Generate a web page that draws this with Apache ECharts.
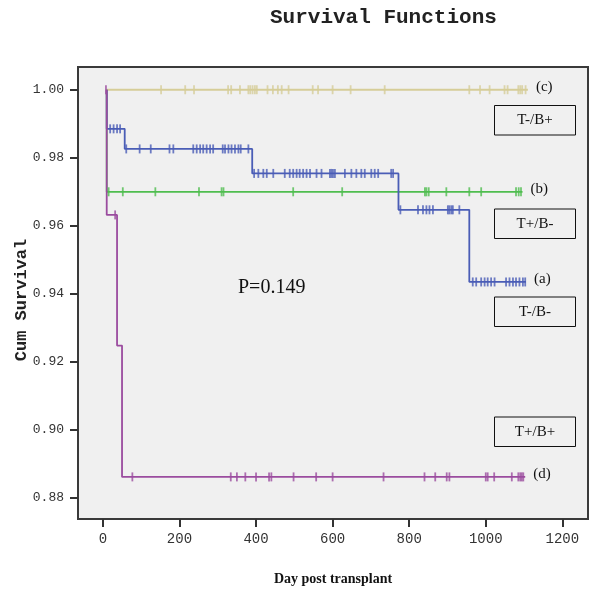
<!DOCTYPE html>
<html>
<head>
<meta charset="utf-8">
<script src="https://cdn.jsdelivr.net/npm/echarts@6/dist/echarts.min.js"></script>
<style>
  html, body { margin: 0; padding: 0; background: #fff; }
  #chart { width: 592px; height: 589px; }
</style>
</head>
<body>
<div id="chart"></div>
<script>
// x / y tick labels
const xTicks = [0, 200, 400, 600, 800, 1000, 1200];
const yTicks = [0.88, 0.90, 0.92, 0.94, 0.96, 0.98, 1.00];

// (a) T-/B-
const aStart = 10, aEnd = 1105;
const aEventDays = [10, 57, 390, 772, 957];
const aSurvival = [0.9885, 0.9826, 0.9754, 0.9647, 0.9435];
const aCensored = [19, 28, 37, 45, 61, 96, 125, 174, 184, 236, 245, 254, 262, 271, 280, 288,
  313, 319, 328, 336, 345, 354, 360, 380, 395, 406, 419, 428, 445, 475, 488, 497, 506, 514,
  523, 532, 541, 558, 571, 593, 597, 601, 606, 632, 649, 662, 675, 684, 701, 710, 719, 753,
  758, 777, 823, 836, 845, 853, 862, 901, 905, 910, 914, 931, 966, 975, 988, 997, 1005, 1014,
  1023, 1053, 1062, 1071, 1079, 1088, 1097, 1103];

// (b) T+/B-
const bStart = 10, bEnd = 1096;
const bEventDays = [10];
const bSurvival = [0.970];
const bCensored = [15, 52, 137, 251, 310, 315, 497, 625, 841, 845, 851, 897, 957, 988, 1079, 1086, 1092];

// (c) T-/B+
const cStart = 10, cEnd = 1110;
const cEventDays = [];
const cSurvival = [];
const cCensored = [152, 215, 238, 327, 335, 358, 380, 385, 391, 397, 402, 430, 444, 457, 467,
  485, 548, 562, 600, 647, 736, 957, 985, 1010, 1049, 1057, 1085, 1090, 1095, 1104];

// (d) T+/B+
const dStart = 10, dEnd = 1103;
const dEventDays = [10, 37, 50];
const dSurvival = [0.9632, 0.9248, 0.8862];
const dCensored = [8, 32, 77, 334, 350, 372, 400, 434, 440, 498, 557, 600, 733, 840, 868, 898,
  905, 1000, 1005, 1022, 1068, 1085, 1090, 1094, 1098];

const groups = [
  { key: 'c', label: '(c)', color: '#d6cd98', start: cStart, end: cEnd, days: cEventDays, surv: cSurvival, cens: cCensored },
  { key: 'b', label: '(b)', color: '#4fbd4f', start: bStart, end: bEnd, days: bEventDays, surv: bSurvival, cens: bCensored },
  { key: 'a', label: '(a)', color: '#4a5db6', start: aStart, end: aEnd, days: aEventDays, surv: aSurvival, cens: aCensored },
  { key: 'd', label: '(d)', color: '#9b4c9f', start: dStart, end: dEnd, days: dEventDays, surv: dSurvival, cens: dCensored }
];

function survAt(g, t) {
  let s = 1;
  for (let i = 0; i < g.days.length; i++) {
    if (g.days[i] <= t) s = g.surv[i];
  }
  return s;
}

function stepData(g) {
  const pts = [[g.start, 1]];
  g.days.forEach((d, i) => pts.push([d, g.surv[i]]));
  pts.push([g.end, g.surv.length ? g.surv[g.surv.length - 1] : 1]);
  return pts;
}

const series = [];
groups.forEach(g => {
  series.push({
    type: 'line',
    step: 'end',
    data: stepData(g),
    symbol: 'none',
    lineStyle: { color: g.color, width: 1.8 },
    endLabel: {
      show: true,
      formatter: g.label,
      distance: 8,
      offset: [0, -3],
      color: '#111',
      fontFamily: 'Liberation Serif',
      fontSize: 15
    },
    silent: true,
    z: 2
  });
  series.push({
    type: 'scatter',
    data: g.cens.map(t => [t, survAt(g, t)]),
    symbol: 'rect',
    symbolSize: [1.8, 9],
    itemStyle: { color: g.color },
    silent: true,
    z: 3
  });
});

const serif = 'Liberation Serif';
function box(y, text) {
  return {
    type: 'group',
    left: 492,
    top: y,
    children: [
      { type: 'rect', shape: { x: 0, y: 0, width: 81, height: 29.5 },
        style: { fill: 'none', stroke: '#111', lineWidth: 1 } },
      { type: 'text', x: 40.5, y: 15,
        style: { text: text, fill: '#111', font: '15px ' + serif, align: 'center', verticalAlign: 'middle' } }
    ]
  };
}

const chart = echarts.init(document.getElementById('chart'));
chart.setOption({
  animation: false,
  backgroundColor: '#fff',
  title: {
    text: 'Survival Functions',
    left: 270,
    top: 7,
    padding: 0,
    textStyle: { fontFamily: 'Liberation Mono', fontWeight: 'bold', fontSize: 21, color: '#222' }
  },
  grid: {
    left: 78, top: 67, right: 4, bottom: 70,
    show: true,
    backgroundColor: '#f0f0f0',
    borderColor: '#3a3a3a',
    borderWidth: 2,
    outerBoundsMode: 'none'
  },
  xAxis: {
    type: 'value',
    min: -65,
    max: 1267,
    splitLine: { show: false },
    axisLine: { show: false, onZero: false },
    axisTick: { show: true, length: 8, lineStyle: { color: '#333', width: 2 }, customValues: xTicks },
    axisLabel: {
      customValues: xTicks,
      formatter: v => String(v),
      margin: 13,
      color: '#333',
      fontFamily: 'Liberation Mono',
      fontSize: 14
    },
    name: 'Day post transplant',
    nameLocation: 'middle',
    nameGap: 53,
    nameTextStyle: { fontFamily: serif, fontWeight: 'bold', fontSize: 14, color: '#111' }
  },
  yAxis: {
    type: 'value',
    min: 0.87382,
    max: 1.00668,
    splitLine: { show: false },
    axisLine: { show: false, onZero: false },
    axisTick: { show: true, length: 8, lineStyle: { color: '#333', width: 2 }, customValues: yTicks },
    axisLabel: {
      customValues: yTicks,
      formatter: v => v.toFixed(2),
      margin: 14,
      color: '#333',
      fontFamily: 'Liberation Mono',
      fontSize: 13
    }
  },
  graphic: [
    { type: 'text', x: 22, y: 300, rotation: Math.PI / 2,
      style: { text: 'Cum Survival', fill: '#222', font: 'bold 17px Liberation Mono', align: 'center', verticalAlign: 'middle' } },
    { type: 'text', left: 238, top: 278,
      style: { text: 'P=0.149', fill: '#111', font: '20px ' + serif } },
    box(103, 'T-/B+'),
    box(206.5, 'T+/B-'),
    box(294.5, 'T-/B-'),
    box(414.5, 'T+/B+')
  ],
  series: series
});
</script>
</body>
</html>
